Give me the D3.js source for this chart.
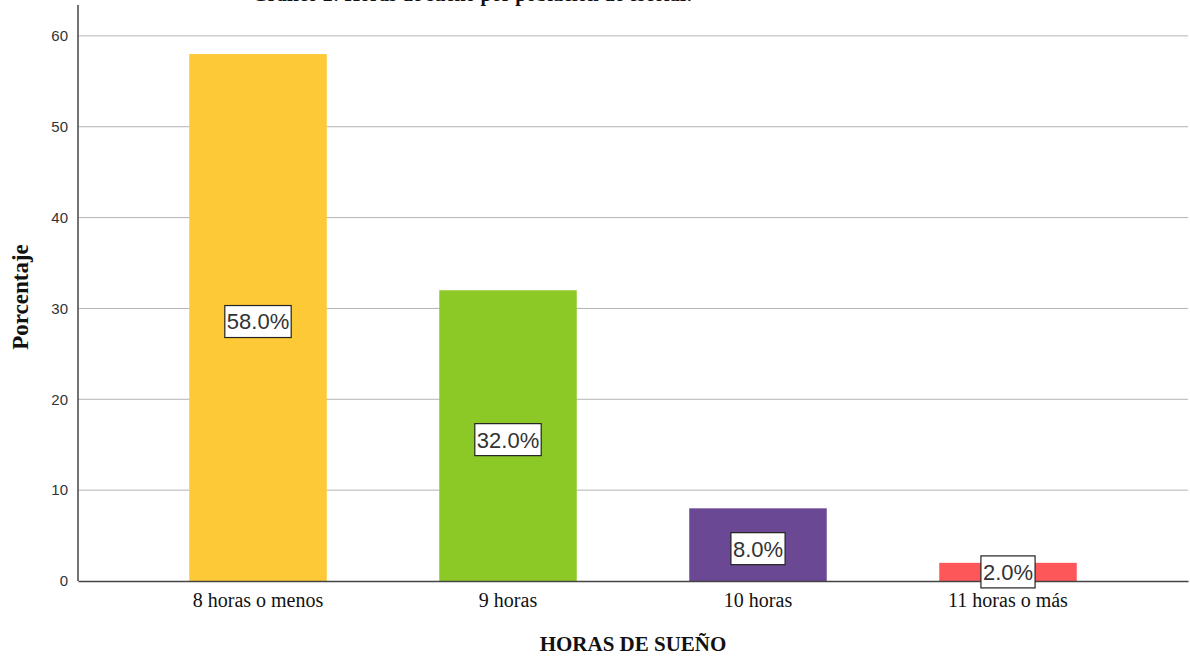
<!DOCTYPE html>
<html>
<head>
<meta charset="utf-8">
<script src="https://cdn.jsdelivr.net/npm/d3@7"></script>
<style>
  body { margin: 0; background: #fff; }
  svg { display: block; }
</style>
</head>
<body>
<div id="chart"></div>
<script>
// chart data
const categories = ["8 horas o menos", "9 horas", "10 horas", "11 horas o más"];
const percents = [58.0, 32.0, 8.0, 2.0];
const barColors = ["#fec937", "#8dc926", "#6b4893", "#fe575a"];
const yTicks = [0, 10, 20, 30, 40, 50, 60];

const svgWidth = 1190;
const svgHeight = 656;

const margin = { top: 5, right: 2, bottom: 75, left: 78 };
const width = svgWidth - margin.left - margin.right;
const height = svgHeight - margin.top - margin.bottom;

const svg = d3.select("#chart")
  .append("svg")
  .attr("width", svgWidth)
  .attr("height", svgHeight);

// title (mostly cut off at the top edge, as in the source)
svg.append("text")
  .attr("x", 472)
  .attr("y", 1)
  .attr("text-anchor", "middle")
  .attr("font-family", "Liberation Serif, Times New Roman, serif")
  .attr("font-weight", "bold")
  .attr("font-size", 20)
  .attr("fill", "#111")
  .text("Gráfico 2: Horas de sueño por población de escolar.");

const chartGroup = svg.append("g")
  .attr("transform", `translate(${margin.left}, ${margin.top})`);

const x = d3.scaleBand()
  .domain(categories)
  .range([0, width])
  .paddingInner(0.45)
  .paddingOuter(0.445);

const y = d3.scaleLinear()
  .domain([0, 63.4])
  .range([height, 0]);

// gridlines
chartGroup.append("g")
  .selectAll("line")
  .data(yTicks.filter(d => d > 0))
  .enter()
  .append("line")
  .attr("x1", 0)
  .attr("x2", width)
  .attr("y1", d => y(d))
  .attr("y2", d => y(d))
  .attr("stroke", "#b4b4b4")
  .attr("stroke-width", 1);

// bars
chartGroup.selectAll("rect.bar")
  .data(percents)
  .enter()
  .append("rect")
  .attr("class", "bar")
  .attr("x", (d, i) => x(categories[i]))
  .attr("y", d => y(d))
  .attr("width", x.bandwidth())
  .attr("height", d => height - y(d))
  .attr("fill", (d, i) => barColors[i]);

// y axis
const yAxis = d3.axisLeft(y)
  .tickValues(yTicks)
  .tickSize(0)
  .tickPadding(10);

const yAxisG = chartGroup.append("g").call(yAxis);
yAxisG.select(".domain").remove();
yAxisG.selectAll("text")
  .attr("font-family", "Liberation Sans, Arial, sans-serif")
  .attr("font-size", 15)
  .attr("fill", "#333");

chartGroup.append("line")
  .attr("x1", 0).attr("x2", 0)
  .attr("y1", 0).attr("y2", height)
  .attr("stroke", "#444")
  .attr("stroke-width", 1.5);

// x axis
const xAxis = d3.axisBottom(x).tickSize(0).tickPadding(12);
const xAxisG = chartGroup.append("g")
  .attr("transform", `translate(0, ${height})`)
  .call(xAxis);
xAxisG.select(".domain").attr("stroke", "#444").attr("stroke-width", 1.5);
xAxisG.selectAll("text")
  .attr("font-family", "Liberation Serif, Times New Roman, serif")
  .attr("font-size", 20)
  .attr("fill", "#111");

// value labels in boxes
const labels = chartGroup.selectAll("g.vlabel")
  .data(percents)
  .enter()
  .append("g")
  .attr("class", "vlabel")
  .attr("transform", (d, i) => {
    const cx = x(categories[i]) + x.bandwidth() / 2;
    const cy = (y(d) + height) / 2 + (d > 5 ? 4 : 0);
    return `translate(${cx}, ${cy})`;
  });

labels.append("text")
  .attr("text-anchor", "middle")
  .attr("dy", "0.36em")
  .attr("font-family", "Liberation Sans, Arial, sans-serif")
  .attr("font-size", 22)
  .attr("fill", "#333")
  .text(d => d.toFixed(1) + "%");

labels.each(function() {
  const g = d3.select(this);
  const bb = g.select("text").node().getBBox();
  g.insert("rect", "text")
    .attr("x", bb.x - 2)
    .attr("y", -16)
    .attr("width", bb.width + 4)
    .attr("height", 32)
    .attr("fill", "#fff")
    .attr("stroke", "#222")
    .attr("stroke-width", 1.2);
});

// axis titles
svg.append("text")
  .attr("transform", `translate(28, ${margin.top + height / 2 + 4}) rotate(-90)`)
  .attr("text-anchor", "middle")
  .attr("font-family", "Liberation Serif, Times New Roman, serif")
  .attr("font-weight", "bold")
  .attr("font-size", 23)
  .attr("fill", "#111")
  .text("Porcentaje");

svg.append("text")
  .attr("x", margin.left + width / 2)
  .attr("y", 651)
  .attr("text-anchor", "middle")
  .attr("font-family", "Liberation Serif, Times New Roman, serif")
  .attr("font-weight", "bold")
  .attr("font-size", 21)
  .attr("fill", "#111")
  .text("HORAS DE SUEÑO");
</script>
</body>
</html>
